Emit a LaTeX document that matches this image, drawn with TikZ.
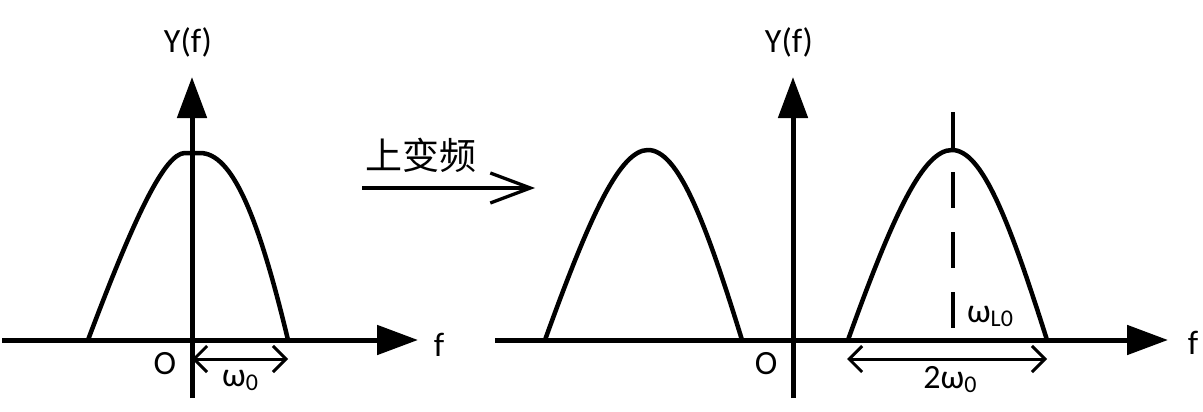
\documentclass[tikz,border=0pt]{standalone}
\usepackage{fontspec}
\setmainfont{Carlito}
\newfontfamily\cjk{Noto Sans CJK SC}
\usetikzlibrary{arrows.meta}
\newcommand{\subz}[1]{\raisebox{-4pt}{\fontsize{24}{24}\selectfont #1}}
\begin{document}
\begin{tikzpicture}[x=1pt,y=-1pt,
  axisarrow/.style={line width=5pt,-{Triangle[length=41pt,width=29pt]}},
  curve/.style={line width=4.5pt,line join=round,line cap=round},
  dimarrow/.style={line width=3pt,{Straight Barb[length=13pt,width=26pt]}-{Straight Barb[length=13pt,width=26pt]}},
  lbl/.style={font=\fontsize{34}{40}\selectfont,inner sep=0pt},
  cjklbl/.style={font=\cjk\fontsize{37}{40}\selectfont,inner sep=0pt}]
\useasboundingbox (0,0) rectangle (1203,412);
% coordinates
\coordinate (lhl) at (2,340);
\coordinate (lhr) at (418,340);
\coordinate (lvb) at (192,398);
\coordinate (lvt) at (192,77);
\coordinate (rhl) at (495,340);
\coordinate (rhr) at (1168,340);
\coordinate (rvb) at (793,398);
\coordinate (rvt) at (793,77);
% left axes
\draw[axisarrow] (lhl) -- (lhr);
\draw[axisarrow] (lvb) -- (lvt);
% right axes
\draw[axisarrow] (rhl) -- (rhr);
\draw[axisarrow] (rvb) -- (rvt);
% left spectrum
\draw[curve] (88,340) .. controls (135,215) and (165,153) .. (185,153)
  -- (200,153) .. controls (232,153) and (258,215) .. (288,340);
% right spectra
\draw[curve] (545,340) .. controls (590,215) and (620,150) .. (648,150)
  .. controls (678,150) and (705,220) .. (742,340);
\draw[curve] (848,340) .. controls (893,215) and (923,150) .. (952,150)
  .. controls (982,150) and (1009,220) .. (1047,340);
% dashed carrier line
\coordinate (dt) at (953,112);
\coordinate (db) at (953,328);
\draw[line width=4.5pt,dash pattern=on 36pt off 24pt] (dt) -- (db);
% dimension arrows
\coordinate (d1a) at (192,359);
\coordinate (d1b) at (288,359);
\draw[dimarrow] (d1a) -- (d1b);
\coordinate (d2a) at (847,359);
\coordinate (d2b) at (1047,359);
\draw[dimarrow] (d2a) -- (d2b);
% middle arrow
\coordinate (ma) at (362,188);
\coordinate (mb) at (535,188);
\draw[line width=3.3pt,-{Straight Barb[length=40pt,width=30pt]}] (ma) -- (mb);
% labels
\node[lbl] (ly) at (188,42) {Y(f)};
\node[lbl] (ry) at (789,42) {Y(f)};
\node[lbl] (lf) at (439,345) {f};
\node[lbl] (rf) at (1193,343) {f};
\node[lbl] (lo) at (165,364) {O};
\node[lbl] (ro) at (766,364) {O};
\node[lbl] (lw) at (240,380) {ω\subz{0}};
\node[lbl] (rw) at (950,380) {2ω\subz{0}};
\node[lbl] (wl) at (990,316) {ω\subz{L0}};
\node[cjklbl] (up) at (421,155) {上变频};
\end{tikzpicture}
\end{document}
